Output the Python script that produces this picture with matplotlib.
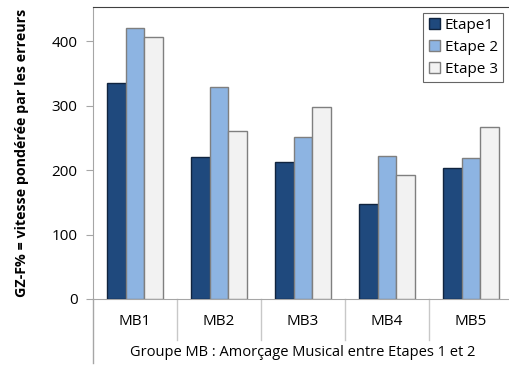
import numpy as np
import matplotlib
matplotlib.use("Agg")
import matplotlib.pyplot as plt

# data
groups = ["MB1", "MB2", "MB3", "MB4", "MB5"]
etape1 = [335, 221, 212, 148, 204]
etape2 = [420, 329, 252, 222, 218]
etape3 = [406, 261, 298, 192, 267]
series_names = ["Etape1", "Etape 2", "Etape 3"]
y_ticks = [0, 100, 200, 300, 400]

plt.rcParams['font.family'] = ['Open Sans', 'DejaVu Sans']

fig = plt.figure(figsize=(5.10, 3.67), dpi=100)
ax = fig.add_axes([93 / 510, 68 / 367, 420 / 510, 292 / 367])

x = np.arange(len(groups))
w = 0.225
faces = ["#1F497D", "#8DB4E2", "#F2F2F2"]
edges = ["#10243f", "#7f7f7f", "#7f7f7f"]
for i, vals in enumerate([etape1, etape2, etape3]):
    ax.bar(x + (i - 1) * w, vals, w, color=faces[i], edgecolor=edges[i],
           linewidth=1.0, label=series_names[i], zorder=3)

ax.set_xlim(-0.5, len(groups) - 0.5)
ax.set_ylim(0, 453)
ax.set_yticks(y_ticks)
ax.tick_params(axis='y', length=5, color="#a6a6a6", labelsize=11, pad=6)
ax.tick_params(axis='x', length=0, labelsize=11, pad=11)
ax.set_xticks(x)
ax.set_xticklabels(groups)

for s in ["left", "bottom"]:
    ax.spines[s].set_color("#a6a6a6")
ax.spines["top"].set_color("#404040")
ax.spines["right"].set_visible(False)

# category separators below the axis and extended left axis line
for k in range(1, len(groups)):
    ax.plot([k - 0.5, k - 0.5], [0, -0.14], color="#c8c8c8", lw=1,
            transform=ax.get_xaxis_transform(), clip_on=False)
ax.plot([-0.5, -0.5], [0, -0.22], color="#a6a6a6", lw=1,
        transform=ax.get_xaxis_transform(), clip_on=False)

ax.set_xlabel("Groupe MB : Amorçage Musical entre Etapes 1 et 2",
              fontsize=10.5, labelpad=11)
ax.set_ylabel("GZ-F% = vitesse pondérée par les erreurs",
              fontsize=10.3, fontweight='bold', labelpad=16)

leg = ax.legend(loc="upper right", bbox_to_anchor=(0.977, 0.98),
                fontsize=11, frameon=True, fancybox=False,
                handlelength=0.75, handleheight=0.75, handletextpad=0.3,
                borderpad=0.35, labelspacing=0.45, borderaxespad=0)
leg.get_frame().set_edgecolor("#404040")
leg.get_frame().set_linewidth(0.8)

fig.savefig("out.png", dpi=100)
